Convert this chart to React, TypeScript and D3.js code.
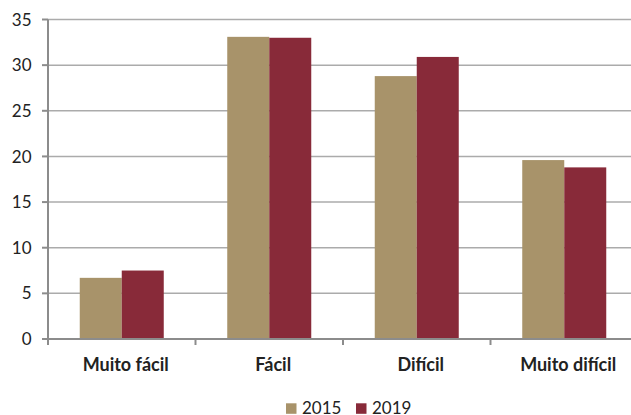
import React from "react";
import * as d3 from "d3";

const categories = ["Muito fácil", "Fácil", "Difícil", "Muito difícil"];
const seriesNames = ["2015", "2019"];
const values2015 = [6.7, 33.1, 28.8, 19.6];
const values2019 = [7.5, 33.0, 30.9, 18.8];
const yTicks = [0, 5, 10, 15, 20, 25, 30, 35];
const colors = ["#A8936A", "#882A39"];

const W = 631;
const H = 415;
const left = 48;
const right = 638;
const top = 19.5;
const bottom = 339;
const FONT = "Lato, 'Open Sans', sans-serif";

export default function App() {
  const x = d3.scaleBand<string>().domain(categories).range([left, right]).paddingInner(0).paddingOuter(0);
  const inner = d3.scaleBand<string>().domain(seriesNames).range([0, x.bandwidth()]).paddingInner(0).paddingOuter(0.756);
  const y = d3.scaleLinear().domain([0, 35]).range([bottom, top]);
  const series = [values2015, values2019];
  const tickXs = categories.map((c) => x(c)!).concat([right]);

  return (
    <svg width={W} height={H} style={{ position: "absolute", left: 0, top: 0, background: "#fff" }}>
      {yTicks.filter((t) => t > 0).map((t) => (
        <line key={t} x1={left} x2={right} y1={y(t)} y2={y(t)} stroke="#ABABAB" strokeWidth={1.5} />
      ))}
      {categories.map((c, i) =>
        series.map((s, j) => (
          <rect
            key={c + j}
            x={x(c)! + inner(seriesNames[j])!}
            y={y(s[i])}
            width={inner.bandwidth()}
            height={y(0) - y(s[i])}
            fill={colors[j]}
          />
        ))
      )}
      <line x1={left} x2={left} y1={top} y2={bottom} stroke="#8C8C8C" strokeWidth={2} />
      <line x1={left} x2={right} y1={bottom} y2={bottom} stroke="#8C8C8C" strokeWidth={2} />
      {yTicks.map((t) => (
        <g key={t}>
          <line x1={left - 6} x2={left} y1={y(t)} y2={y(t)} stroke="#8C8C8C" strokeWidth={2} />
          <text x={31.5} y={y(t)} dy="0.36em" textAnchor="end" fontFamily={FONT} fontSize={17} fill="#222">
            {t}
          </text>
        </g>
      ))}
      {tickXs.map((tx, i) => (
        <line key={i} x1={tx} x2={tx} y1={bottom} y2={bottom + 6} stroke="#8C8C8C" strokeWidth={2} />
      ))}
      {categories.map((c) => (
        <text key={c} x={x(c)! + x.bandwidth() / 2 + 4} y={370.5} textAnchor="middle" fontFamily={FONT} fontWeight="bold" fontSize={18} fill="#222">
          {c}
        </text>
      ))}
      {seriesNames.map((n, j) => (
        <g key={n} transform={`translate(${286 + j * 70},0)`}>
          <rect x={0} y={403.3} width={10.5} height={10.5} fill={colors[j]} />
          <text x={16} y={414} fontFamily={FONT} fontSize={17} fill="#222">
            {n}
          </text>
        </g>
      ))}
    </svg>
  );
}
